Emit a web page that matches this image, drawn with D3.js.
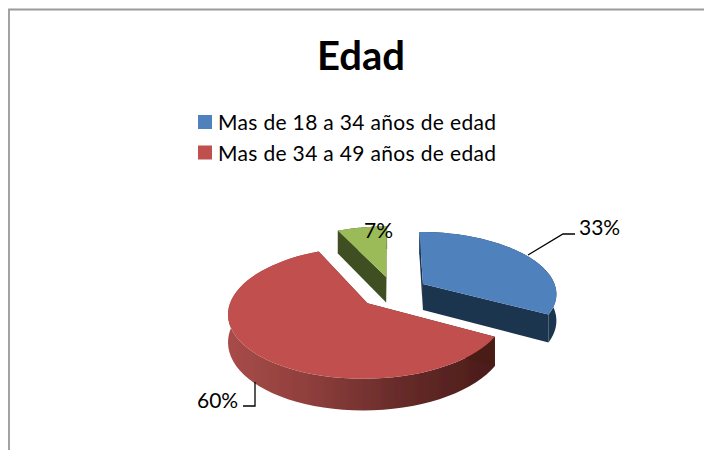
<!DOCTYPE html>
<html><head><meta charset="utf-8">
<script src="https://cdn.jsdelivr.net/npm/d3@7/dist/d3.min.js"></script>
<style>html,body{margin:0;padding:0;background:#fff}svg{display:block}text{font-family:Lato,"Open Sans",sans-serif;fill:#000}</style>
</head><body><script>
const titleText = "Edad";
const categories = ["Mas de 18 a 34 años de edad","Mas de 34 a 49 años de edad","Mas de 49 años de edad"];
const values = [33,60,7];
const topColors = ["#4f81bd","#c0504d","#9bbb59"];
const sideColors = ["#1f3450","url(#redSide)","#3f4f22"];
const labels = ["33%","60%","7%"];

const W=704,H=450;
const svg=d3.select("body").append("svg").attr("width",W).attr("height",H);
const defs=svg.append("defs");
const grad=defs.append("linearGradient").attr("id","redSide").attr("gradientUnits","userSpaceOnUse").attr("x1",227).attr("x2",495).attr("y1",0).attr("y2",0);
[[0,"#a84c49"],[0.3,"#8f3f3c"],[0.65,"#662b29"],[1,"#4a1b19"]].forEach(d=>grad.append("stop").attr("offset",d[0]).attr("stop-color",d[1]));
defs.append("filter").attr("id","soft").append("feGaussianBlur").attr("stdDeviation",0.5);

// frame
svg.append("path").attr("d","M9 450V9.5H704").attr("fill","none").attr("stroke","#9a9a9a").attr("stroke-width",1.8);

svg.append("text").text(titleText).attr("x",361).attr("y",69.5).attr("text-anchor","middle").attr("font-size",40).attr("font-weight",700);

const legendY=d3.scalePoint().domain(categories.slice(0,2)).range([122,152.5]);
categories.slice(0,2).forEach((c,i)=>{
  const y=legendY(c);
  svg.append("rect").attr("x",198).attr("y",y-7).attr("width",14).attr("height",14).attr("fill",topColors[i]);
  svg.append("text").text(c).attr("x",218).attr("y",y+8).attr("font-size",21).attr("textLength",278).attr("lengthAdjust","spacing");
});

// projected 3D pie
const Xc=393.5,Yc=292,R=134,K=61.5,P=0.14,H3=26.5,EXPL=0.26;
const persp=v=>1/(1-P*v);
const project=(u,v,z=0)=>{const s=persp(v);return [Xc+R*u*s,Yc+K*v*s+z*H3*s];};
const arcs=d3.pie().sort(null)(values);
const lineGen=d3.line();
const g=svg.append("g").attr("filter","url(#soft)");
const order=[2,0,1];
order.forEach(i=>{
  const a=arcs[i],mid=(a.startAngle+a.endAngle)/2;
  const ox=EXPL*Math.sin(mid),oy=-EXPL*Math.cos(mid);
  const pt=(t,r,z)=>project(ox+r*Math.sin(t),oy-r*Math.cos(t),z);
  const ts=d3.range(0,61).map(j=>a.startAngle+(a.endAngle-a.startAngle)*j/60);
  const rim=z=>ts.map(t=>pt(t,1,z));
  g.append("path").attr("d",lineGen(rim(0).concat(rim(1).reverse()))+"Z").attr("fill",sideColors[i]);
  [a.startAngle,a.endAngle].forEach(t=>{
    g.append("path").attr("d",lineGen([pt(t,0,0),pt(t,1,0),pt(t,1,1),pt(t,0,1)])+"Z").attr("fill",i===1?"#4a1b19":sideColors[i]);
  });
  g.append("path").attr("d",lineGen([pt(a.startAngle,0,0)].concat(rim(0)))+"Z").attr("fill",topColors[i]);
});

// leaders and data labels
const leaders=[[[528,255],[563,234],[575,234]],[[255,382],[255,406],[243,406]]];
leaders.forEach(l=>svg.append("path").attr("d",lineGen(l)).attr("fill","none").attr("stroke","#000").attr("stroke-width",1.3));
const labelPos=[[579,235],[197,408],[364,238]];
labels.forEach((t,i)=>svg.append("text").text(t).attr("x",labelPos[i][0]).attr("y",labelPos[i][1]).attr("font-size",21));
</script></body></html>
